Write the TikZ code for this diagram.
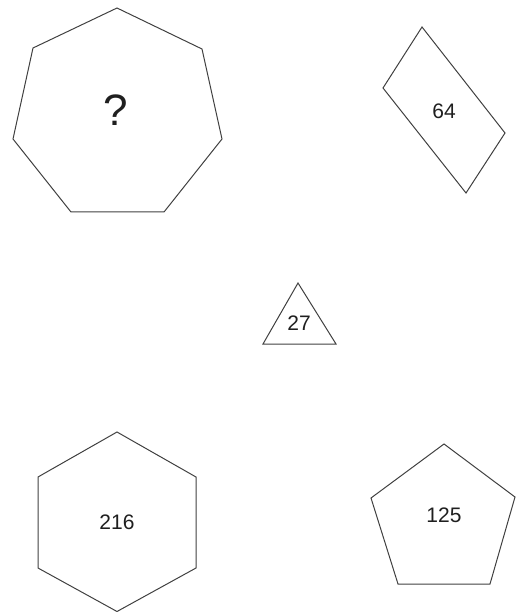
\documentclass[tikz,border=0pt]{standalone}
\usepackage{fontspec}
\setmainfont{Liberation Sans}
\begin{document}
\begin{tikzpicture}[x=1pt,y=-1pt,
  poly/.style={draw=black!75, line width=1pt, line join=miter},
  lbl/.style={font=\fontsize{21}{25}\selectfont, inner sep=0pt, text=black!88},
  qlbl/.style={font=\fontsize{44}{50}\selectfont, inner sep=0pt, text=black!88}]
\useasboundingbox (0,0) rectangle (516,612);
% heptagon
\draw[poly] (117,8) -- (202,49) -- (222,139) -- (164,212) -- (71,212) -- (13,139) -- (33,48) -- cycle;
\node[qlbl] (q) at (116,110) {?};
% rhombus
\draw[poly] (422,27) -- (505,133) -- (466,193) -- (383,88) -- cycle;
\node[lbl] (n64) at (444,111) {64};
% triangle
\draw[poly] (298,283) -- (336,344) -- (263,344) -- cycle;
\node[lbl] (n27) at (299,323) {27};
% hexagon
\draw[poly] (117,432) -- (196,477) -- (196,568) -- (117,611.5) -- (38,568) -- (38,477) -- cycle;
\node[lbl] (n216) at (117,522) {216};
% pentagon
\draw[poly] (444,444) -- (515,497) -- (490,584) -- (398,584) -- (371,498) -- cycle;
\node[lbl] (n125) at (444,515) {125};
\end{tikzpicture}
\end{document}
